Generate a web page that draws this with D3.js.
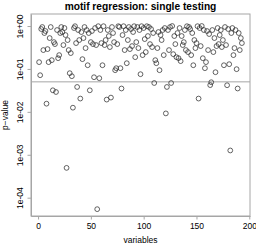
<!DOCTYPE html>
<html>
<head>
<meta charset="utf-8">
<script src="https://cdn.jsdelivr.net/npm/d3@7"></script>
<style>
  body { margin: 0; background: #fff; }
  svg { display: block; }
  text { font-family: "Liberation Sans", Arial, Helvetica, sans-serif; fill: #000; }
</style>
</head>
<body>
<svg class="graph" width="256" height="245"></svg>
<script>
// p-values for each variable, in order (variable index = position + 1)
var pvalues = [
  0.144, 0.0714, 0.851, 0.947, 0.275, 0.686, 0.764, 0.0155, 0.290, 0.144,
  0.524, 0.947, 0.160, 0.0318, 0.422, 0.379, 0.029, 0.806, 0.178, 0.210, 0.686,
  0.947, 0.724, 0.360, 0.898, 0.616, 0.000495, 0.471, 0.275, 0.0796, 0.234, 0.0677,
  0.0125, 0.898, 0.99, 0.400, 0.038, 0.806, 0.471, 0.0204, 0.724, 0.169, 0.524,
  0.947, 0.306, 0.806, 0.122, 0.686, 0.0318, 0.422, 0.764, 0.379, 0.0641,
  0.898, 0.360, 0.000054, 0.99, 0.0608, 0.806, 0.400, 0.122, 0.99, 0.360, 0.471,
  0.0193, 0.806, 0.584, 0.323, 0.0215, 0.947, 0.686, 0.422, 0.0935, 0.104,
  0.379, 0.99, 0.947, 0.104, 0.035, 0.616, 0.99, 0.275, 0.806, 0.136,
  0.471, 0.947, 0.290, 0.851, 0.341, 0.724, 0.99, 0.188, 0.422,
  0.947, 0.306, 0.806, 0.0754, 0.99, 0.210, 0.898, 0.496,
  0.247, 0.99, 0.584, 0.947, 0.379, 0.851, 0.323, 0.686, 0.047, 0.160, 0.136,
  0.306, 0.724, 0.0935, 0.616, 0.471, 0.806, 0.210, 0.898, 0.0092,
  0.038, 0.806, 0.275, 0.947, 0.047, 1.0, 0.221, 0.584, 0.379, 0.188,
  0.686, 0.178, 0.898, 0.152, 0.584, 0.360, 0.422, 0.806, 0.275,
  0.99, 0.247, 0.947, 0.851, 0.210, 0.686, 0.122, 0.471, 0.306,
  0.400, 0.99, 0.0204, 0.898, 0.341, 1.0, 0.178, 0.806, 0.104,
  0.144, 0.764, 0.275, 0.650, 0.042, 0.049, 0.806, 0.247, 0.524, 0.0839, 0.341,
  0.898, 0.379, 0.616, 0.806, 0.323, 0.471, 0.122,
  0.947, 0.360, 0.0417, 0.851, 0.129, 0.00126, 0.686, 0.898, 0.210, 0.306,
  0.806, 0.0987, 0.035, 0.686, 0.275, 0.524, 0.400
];
var xTicks = [0, 50, 100, 150, 200];
var yTicks = [1e-4, 1e-3, 1e-2, 1e-1, 1];
var yTickLabels = ["1e-04", "1e-03", "1e-02", "1e-01", "1e+00"];
var cutoff = 0.05;

var svg = d3.select(".graph");
var margin = {top: 14, left: 31, right: 6, bottom: 29};
var width = 256, height = 245;
var grey = "#a6a6a6";

var data = pvalues.map(function (p, i) { return {v: i + 1, p: p}; });

// R style 4% padding on both axes
var n = data.length;
var xPad = (n - 1) * 0.04;
var x = d3.scaleLinear()
  .domain([1 - xPad, n + xPad])
  .range([margin.left, width - margin.right]);

var lo = Math.log10(d3.min(pvalues)), hi = 0.28;
var y = d3.scaleLog()
  .domain([Math.pow(10, lo - (hi - lo) * 0.035), Math.pow(10, hi)])
  .range([height - margin.bottom, margin.top]);

// box
svg.append("rect")
  .attr("x", margin.left).attr("y", margin.top)
  .attr("width", width - margin.left - margin.right)
  .attr("height", height - margin.top - margin.bottom)
  .attr("fill", "none").attr("stroke", grey).attr("stroke-width", 1);

// cutoff line
svg.append("line")
  .attr("x1", margin.left).attr("x2", width - margin.right)
  .attr("y1", y(cutoff)).attr("y2", y(cutoff))
  .attr("stroke", grey).attr("stroke-width", 1);

// x axis
var xAxis = svg.append("g")
  .attr("transform", "translate(0," + (height - margin.bottom) + ")")
  .call(d3.axisBottom(x).tickValues(xTicks).tickSize(3.5).tickSizeOuter(0).tickPadding(3));
xAxis.select(".domain").attr("stroke", grey);
xAxis.selectAll(".tick line").attr("stroke", grey);
xAxis.selectAll("text").attr("font-size", 8.5).attr("fill", "#000");

// y axis
var yAxis = svg.append("g")
  .attr("transform", "translate(" + margin.left + ",0)")
  .call(d3.axisLeft(y).tickValues(yTicks).tickSize(3.5).tickSizeOuter(0)
    .tickFormat(function (d, i) { return yTickLabels[i]; }));
yAxis.select(".domain").attr("stroke", grey);
yAxis.selectAll(".tick line").attr("stroke", grey);
yAxis.selectAll("text")
  .attr("font-size", 8.5).attr("fill", "#000")
  .attr("text-anchor", "middle")
  .attr("transform", "rotate(-90)")
  .attr("x", 0).attr("y", -8).attr("dy", 0);

// points
svg.append("g").selectAll("circle")
  .data(data)
  .enter().append("circle")
  .attr("cx", function (d) { return x(d.v); })
  .attr("cy", function (d) { return y(d.p); })
  .attr("r", 2.4)
  .attr("fill", "none")
  .attr("stroke", "#222")
  .attr("stroke-width", 0.7);

// titles
svg.append("text")
  .attr("x", (margin.left + width - margin.right) / 2).attr("y", 10)
  .attr("text-anchor", "middle")
  .attr("font-size", 10.2).attr("font-weight", "bold")
  .text("motif regression: single testing");

svg.append("text")
  .attr("x", (margin.left + width - margin.right) / 2).attr("y", 243)
  .attr("text-anchor", "middle").attr("font-size", 8.5)
  .text("variables");

svg.append("text")
  .attr("transform", "translate(8," + ((margin.top + height - margin.bottom) / 2) + ") rotate(-90)")
  .attr("text-anchor", "middle").attr("font-size", 8.5)
  .text("p\u2212value");
</script>
</body>
</html>
